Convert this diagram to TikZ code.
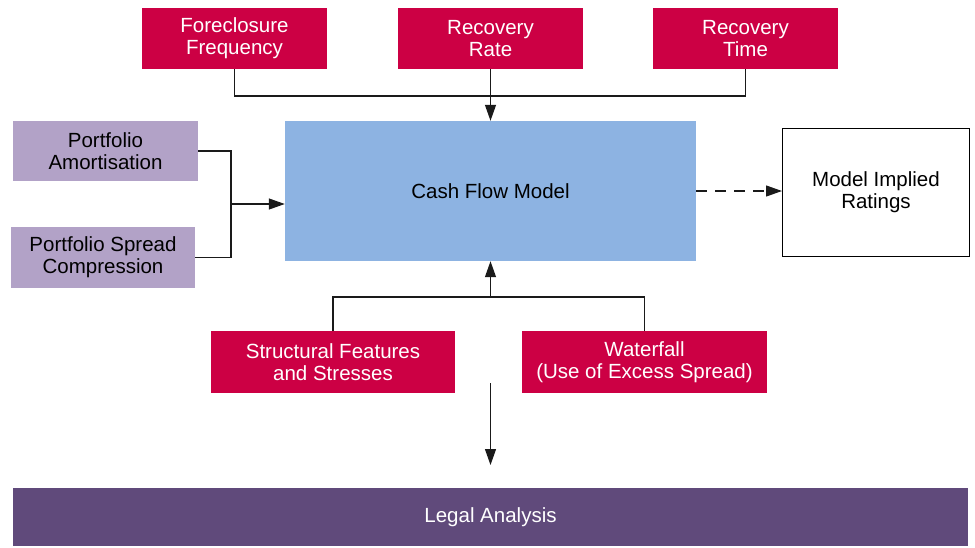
\documentclass[tikz,border=0pt]{standalone}
\usepackage{fontspec}
\setmainfont{Liberation Sans}
\usetikzlibrary{arrows.meta}
\definecolor{crimson}{HTML}{CC0044}
\definecolor{skyblue}{HTML}{8DB3E2}
\definecolor{lavender}{HTML}{B2A2C7}
\definecolor{plum}{HTML}{604A7B}
\definecolor{wire}{HTML}{1A1A1A}
\begin{document}
\begin{tikzpicture}[x=1pt,y=-1pt,
  box/.style={inner sep=0pt, align=center, font=\fontsize{20.5}{22}\selectfont},
  redbox/.style={box, fill=crimson, text=white},
  lilacbox/.style={box, fill=lavender, text=black},
  link/.style={draw=wire, line width=1.2pt},
  arrow/.style={link, -{Triangle[length=16pt,width=11pt]}}]
\useasboundingbox (0,0) rectangle (975,547);

% input factors above the model
\node[redbox, minimum width=185pt, minimum height=61pt] (ff) at (234.5,38.5) {Foreclosure\\Frequency};
\node[redbox, minimum width=185pt, minimum height=61pt] (rr) at (490.5,38.5) {Recovery\\Rate};
\node[redbox, minimum width=185pt, minimum height=61pt] (rt) at (745.5,38.5) {Recovery\\Time};

% central model and its output
\node[box, fill=skyblue, minimum width=411pt, minimum height=140pt] (cfm) at (490.5,191) {Cash Flow Model};
\node[box, draw=black, line width=1pt, fill=white, minimum width=187pt, minimum height=128pt] (mir) at (876,192.5) {Model Implied\\Ratings};

% portfolio inputs on the left
\node[lilacbox, minimum width=185pt, minimum height=60pt] (pa) at (105.5,151) {Portfolio\\Amortisation};
\node[lilacbox, minimum width=184pt, minimum height=61pt] (psc) at (103,257.5) {Portfolio Spread\\Compression};

% structural inputs below
\node[redbox, minimum width=244pt, minimum height=62pt] (sfs) at (333,362) {Structural Features\\and Stresses};
\node[redbox, minimum width=245pt, minimum height=62pt] (wf) at (644.5,362) {Waterfall\\(Use of Excess Spread)};

% legal analysis band
\node[box, fill=plum, text=white, minimum width=955pt, minimum height=58pt] (la) at (490.5,517) {Legal Analysis};

% junction points
\coordinate (tj) at (490.5,96);
\coordinate (lj) at (231,204);
\coordinate (bj) at (490.5,297);
\coordinate (fa) at (490.5,383);
\coordinate (fb) at (490.5,465);

% top bracket
\draw[link] (ff.south) -- (ff.south |- tj) -- (rt.south |- tj) -- (rt.south);
\draw[arrow] (rr.south) -- (cfm.north);

% left bracket
\draw[link] (pa.east) -| (lj) |- (psc.east);
\draw[arrow] (lj) -- (lj -| cfm.west);

% bottom bracket
\draw[link] (sfs.north) |- (bj) -| (wf.north);
\draw[arrow] (bj) -- (cfm.south);

% output to ratings
\draw[arrow, dash pattern=on 11pt off 8pt] (cfm.east) -- (cfm.east -| mir.west);

% downward arrow towards legal analysis
\draw[arrow] (fa) -- (fb);
\end{tikzpicture}
\end{document}
